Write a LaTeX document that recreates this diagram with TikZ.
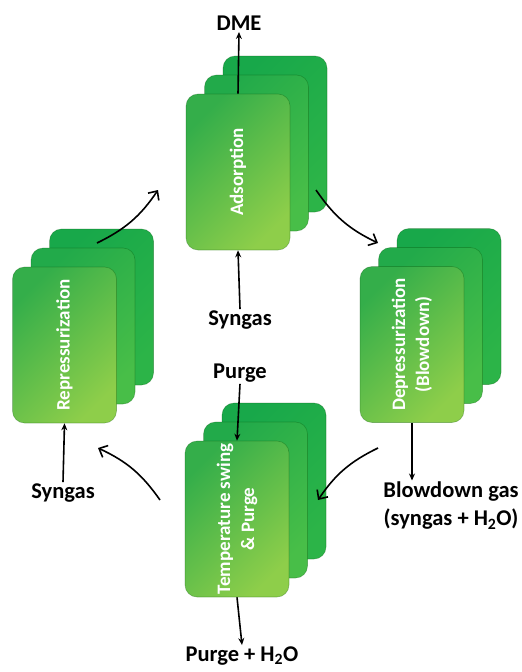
\documentclass[tikz,border=0pt]{standalone}
\usepackage{fontspec}
\setmainfont{Carlito}
\usetikzlibrary{arrows.meta}

\definecolor{frontTop}{RGB}{52,174,74}
\definecolor{frontBot}{RGB}{142,206,74}
\definecolor{middleTop}{RGB}{34,170,74}
\definecolor{middleBot}{RGB}{72,190,72}
\definecolor{backTop}{RGB}{24,168,74}
\definecolor{backBot}{RGB}{44,180,72}

\begin{document}
\begin{tikzpicture}
[x=1pt,y=-1pt,
  cardDecorate/.style={shape=rectangle,rounded corners=12pt,minimum width=104pt,minimum height=156pt,inner sep=0pt,draw=green!30!black,draw opacity=0.3,line width=0.6pt},%
  frontCard/.style={cardDecorate,top color=frontTop,bottom color=frontBot,shading angle=45},%
  middleCard/.style={cardDecorate,top color=middleTop,bottom color=middleBot,shading angle=45},%
  backCard/.style={cardDecorate,top color=backTop,bottom color=backBot,shading angle=45},%
  textDecorate/.style={rotate=90,align=center,text=white,font=\bfseries\fontsize{19}{24}\selectfont},%
  labelDecorate/.style={font=\bfseries\fontsize{22.5}{28}\selectfont,inner sep=1.5pt},%
  arrowDecorate/.style={-{Stealth[length=7pt,width=6pt]},line width=1.6pt},%
  bendDecorate/.style={-{Straight Barb[length=7pt,width=13pt]},line width=1.6pt,bend right=15}]
\useasboundingbox (0,0) rectangle (522,672);
%% stacks of beds
\foreach \nodename/\x/\y/\txt in {
  ads/238/172/{Adsorption}, rep/64.5/345/{Repressurization},
  dep/412/344.5/{Depressurization\\(Blowdown)}, tmp/237/519/{Temperature swing\\\& Purge}}
{
  \node (\nodename3) at (\x+37,\y-38) [backCard] {};
  \node (\nodename2) at (\x+18.5,\y-19) [middleCard] {};
  \node (\nodename1) at (\x,\y) [frontCard] {};
  \node (\nodename-txt) at (\x,\y) [textDecorate] {\txt};
}
%% streams
\node (dme) at (239,23) [labelDecorate] {DME};
\node (syn1) at (240,320) [labelDecorate] {Syngas};
\node (syn2) at (63,493) [labelDecorate] {Syngas};
\node (purge) at (240,373) [labelDecorate] {Purge};
\node (purgeout) at (242,656) [labelDecorate] {Purge + H\textsubscript{2}O};
\node (blow) at (451,506) [labelDecorate,align=center] {Blowdown gas\\(syngas + H\textsubscript{2}O)};
\draw[arrowDecorate] (ads1.north) -- (dme.south);
\draw[arrowDecorate] (syn1.north) -- (ads1.south);
\draw[arrowDecorate] (purge.south) -- (tmp1.north);
\draw[arrowDecorate] (tmp1.south) -- (purgeout.north);
\draw[arrowDecorate] (dep1.south) -- (dep1.south |- blow.north);
\draw[arrowDecorate] (syn2.north) -- (rep1.south);
%% cycle
\coordinate (r2a-s) at (97,243);   \coordinate (r2a-e) at (158,190);
\coordinate (a2d-s) at (316,190);  \coordinate (a2d-e) at (378,243);
\coordinate (d2t-s) at (378,448);  \coordinate (d2t-e) at (318,500);
\coordinate (t2r-s) at (160,500);  \coordinate (t2r-e) at (98,448);
\path
\foreach \startnode/\endnode in {r2a-s/r2a-e, a2d-s/a2d-e, d2t-s/d2t-e, t2r-s/t2r-e}
{
  (\startnode) edge[bendDecorate] (\endnode)
};
\end{tikzpicture}
\end{document}
